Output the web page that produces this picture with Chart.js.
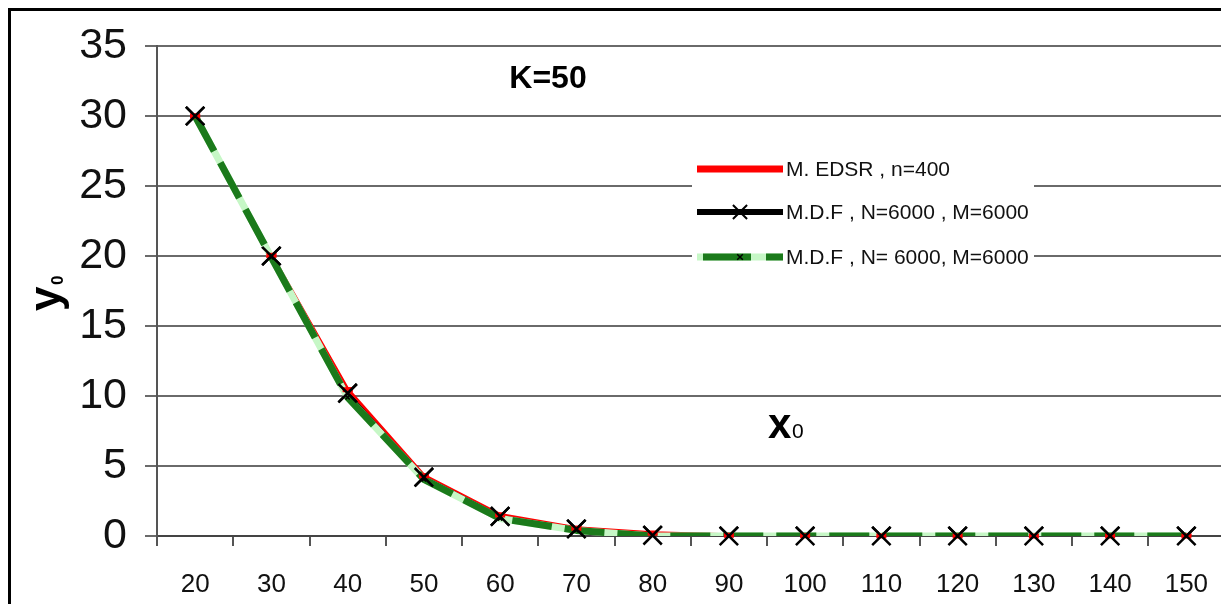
<!DOCTYPE html>
<html>
<head>
<meta charset="utf-8">
<title>K=50</title>
<script src="https://cdn.jsdelivr.net/npm/chart.js@4.4.1/dist/chart.umd.min.js"></script>
<style>
html, body { margin:0; padding:0; background:#fff; overflow:hidden; }
#frame { position:absolute; left:8px; top:8px; width:1300px; height:700px; border:3px solid #000; }
#wrap { position:absolute; left:0; top:0; width:1240px; height:604px; }
</style>
</head>
<body>
<div id="frame"></div>
<div id="wrap"><canvas id="c1" width="1240" height="604"></canvas></div>
<script>
// x0 values along the bottom axis
var xLabels = ['20', '30', '40', '50', '60', '70', '80', '90', '100', '110', '120', '130', '140', '150'];
// y0 for each method
var edsr = [30, 20.05, 10.45, 4.3, 1.5, 0.55, 0.2, 0.05, 0.02, 0.01, 0, 0, 0, 0];
var mdf1 = [30, 20, 10.2, 4.2, 1.4, 0.5, 0.05, 0, 0, 0, 0, 0, 0, 0];
var mdf2 = [30, 19.9, 9.9, 4.05, 1.25, 0.4, 0, 0, 0, 0, 0, 0, 0, 0];
var yTicks = [0, 5, 10, 15, 20, 25, 30, 35];

var names = ['M. EDSR , n=400', 'M.D.F , N=6000 , M=6000', 'M.D.F , N= 6000, M=6000'];
var RED = '#ff0000', DARK = '#1b7a1b', LIGHT = '#c6f7c6';
var GREEN_DASH = [40, 13];
var SANS = "'Liberation Sans', Arial, sans-serif";

// red and black markers go back on top of the green band
var markersOnTop = {
  id: 'markersOnTop',
  afterDatasetsDraw: function (chart) {
    [0, 1].forEach(function (i) {
      chart.getDatasetMeta(i).data.forEach(function (p) { p.draw(chart.ctx); });
    });
  }
};

// legend box and the K / x0 / y0 captions
var captions = {
  id: 'captions',
  afterDraw: function (chart) {
    var ctx = chart.ctx;
    ctx.save();
    ctx.fillStyle = '#fff';
    ctx.fillRect(692, 147, 342, 133);

    var x1 = 697, x2 = 783, rows = [169, 212, 257];
    ctx.lineCap = 'butt';
    // red
    ctx.strokeStyle = RED; ctx.lineWidth = 7;
    ctx.beginPath(); ctx.moveTo(x1, rows[0]); ctx.lineTo(x2, rows[0]); ctx.stroke();
    // black with x marker
    ctx.strokeStyle = '#000'; ctx.lineWidth = 6;
    ctx.beginPath(); ctx.moveTo(x1, rows[1]); ctx.lineTo(x2, rows[1]); ctx.stroke();
    ctx.lineWidth = 2;
    Chart.helpers.drawPoint(ctx, { pointStyle: 'crossRot', radius: 10, rotation: 0, borderWidth: 2 }, 740, rows[1]);
    // green, light under dark dashes
    ctx.strokeStyle = LIGHT; ctx.lineWidth = 7;
    ctx.beginPath(); ctx.moveTo(x1, rows[2]); ctx.lineTo(x2, rows[2]); ctx.stroke();
    ctx.strokeStyle = DARK; ctx.setLineDash([48, 15]); ctx.lineDashOffset = 57;
    ctx.beginPath(); ctx.moveTo(x1, rows[2]); ctx.lineTo(x2, rows[2]); ctx.stroke();
    ctx.setLineDash([]);
    ctx.strokeStyle = '#000'; ctx.lineWidth = 1.5;
    Chart.helpers.drawPoint(ctx, { pointStyle: 'crossRot', radius: 4, rotation: 0, borderWidth: 1.5 }, 740, rows[2]);

    ctx.fillStyle = '#111';
    ctx.font = '21px ' + SANS;
    ctx.textAlign = 'left';
    ctx.textBaseline = 'middle';
    names.forEach(function (t, i) { ctx.fillText(t, 786, rows[i] + 1); });

    ctx.textBaseline = 'alphabetic';
    ctx.fillStyle = '#000';
    ctx.font = 'bold 32px ' + SANS;
    ctx.textAlign = 'center';
    ctx.fillText('K=50', 548, 88);

    ctx.textAlign = 'left';
    ctx.font = 'bold 42px ' + SANS;
    ctx.fillText('x', 768, 438);
    ctx.font = '21px ' + SANS;
    ctx.fillText('0', 792, 438);

    ctx.translate(60, 311);
    ctx.rotate(-Math.PI / 2);
    ctx.font = 'bold 44px ' + SANS;
    ctx.fillText('y', 0, 0);
    ctx.font = 'bold 17px ' + SANS;
    ctx.fillText('0', 26, 3);
    ctx.restore();
  }
};

var ctx = document.getElementById('c1').getContext('2d');
var chart = new Chart(ctx, {
  type: 'line',
  data: {
    labels: xLabels,
    datasets: [
      {
        label: names[0], data: edsr, order: 4,
        borderColor: RED, borderWidth: 4,
        pointStyle: 'line', pointRadius: 5, pointBorderWidth: 5,
        pointBorderColor: RED, pointBackgroundColor: RED
      },
      {
        label: names[1], data: mdf1, order: 3,
        borderColor: '#000', borderWidth: 3,
        pointStyle: 'crossRot', pointRadius: 13, pointBorderWidth: 2.5,
        pointBorderColor: '#000'
      },
      {
        label: names[2], data: mdf2, order: 2,
        borderColor: LIGHT, borderWidth: 7, pointRadius: 0
      },
      {
        label: names[2], data: mdf2, order: 1,
        borderColor: DARK, borderWidth: 7, borderDash: GREEN_DASH,
        pointStyle: 'crossRot', pointRadius: 3, pointBorderWidth: 1.5,
        pointBorderColor: '#000'
      }
    ]
  },
  options: {
    responsive: false,
    animation: false,
    events: [],
    layout: { padding: { top: 46, right: 13, bottom: 0, left: 0 } },
    plugins: { legend: { display: false }, tooltip: { enabled: false } },
    elements: { line: { tension: 0, borderCapStyle: 'butt', borderJoinStyle: 'round' } },
    scales: {
      x: {
        offset: true,
        grid: { offset: true, drawOnChartArea: false, tickLength: 10, color: '#555', lineWidth: 2 },
        border: { color: '#444', width: 2 },
        ticks: { color: '#111', padding: 23, maxRotation: 0, font: { family: SANS, size: 26 } },
        afterFit: function (s) { s.height = 68; }
      },
      y: {
        min: 0, max: 35,
        afterBuildTicks: function (s) { s.ticks = yTicks.map(function (v) { return { value: v }; }); },
        grid: { color: '#6a6a6a', lineWidth: 2, tickLength: 12 },
        border: { color: '#555', width: 2 },
        ticks: { color: '#111', padding: 18, font: { family: SANS, size: 43 } },
        afterFit: function (s) { s.width = 157; }
      }
    }
  },
  plugins: [markersOnTop, captions]
});
</script>
</body>
</html>
